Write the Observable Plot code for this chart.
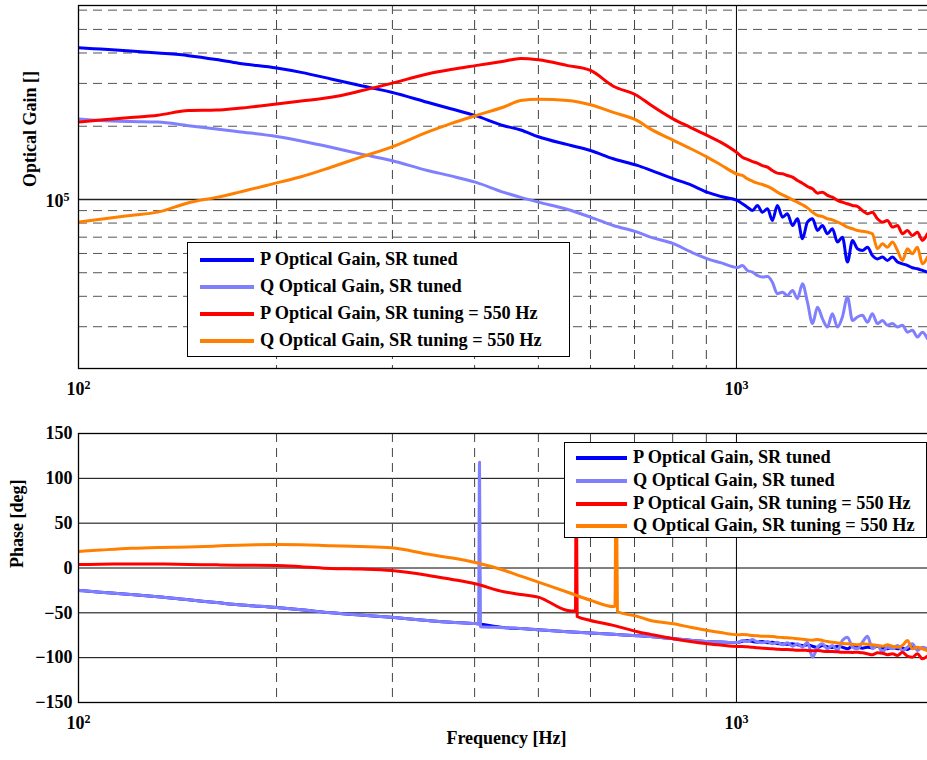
<!DOCTYPE html>
<html><head><meta charset="utf-8">
<script src="https://cdn.jsdelivr.net/npm/d3@7"></script>
<script src="https://cdn.jsdelivr.net/npm/@observablehq/plot@0.6"></script>
<style>
html,body{margin:0;padding:0;overflow:hidden;background:#fff;}
#wrap{position:relative;width:935px;height:760px;}
#wrap svg{display:block;}
.legend{position:absolute;background:#fff;border:1px solid #000;font-family:'Liberation Serif','Times New Roman',serif;font-weight:bold;font-size:18.3px;box-sizing:border-box;}
.legend .sw{position:absolute;height:4px;margin-top:-2px;}
.legend .lbl{position:absolute;white-space:nowrap;transform:translateY(-52%);line-height:1;}
</style></head><body><div id="wrap"></div>
<script>
// ---------------- data ----------------
const seriesNames = [
  "P Optical Gain, SR tuned",
  "Q Optical Gain, SR tuned",
  "P Optical Gain, SR tuning = 550 Hz",
  "Q Optical Gain, SR tuning = 550 Hz"
];
const seriesColors = ["#0000ff", "#8080ff", "#ff0000", "#ff8000"];

// frequency grid [Hz]
const freqHz = [100,108,120,132,147,162,175,200,218,242,268,299,339,368,401,443,470,500,554,600,650,707,740,802,851,904,946,1004,
  1021,1039,1058,1076,1095,1115,1134,1154,1175,1195,1217,1238,1260,1282,1305,1328,1351,1375,1399,1424,
  1449,1475,1501,1527,1554,1582,1609,1638,1667,1696,1726,1757,1788,1819,1851,1884,1917,1951];

// optical gain magnitudes
const pTunedGain = [4.2e5,4.15e5,4.08e5,4.0e5,3.9e5,3.76e5,3.63e5,3.47e5,3.33e5,3.13e5,2.94e5,2.76e5,2.51e5,2.36e5,2.21e5,2.01e5,1.93e5,1.81e5,1.68e5,1.59e5,1.47e5,1.38e5,1.32e5,1.216e5,1.15e5,1.07e5,1.03e5,0.99e5,
  0.96e5,0.93e5,0.901e5,0.945e5,0.887e5,0.916e5,0.82e5,0.945e5,0.846e5,0.873e5,0.782e5,0.833e5,0.69e5,0.807e5,0.833e5,0.746e5,0.782e5,0.723e5,0.758e5,0.668e5,
  0.70e5,0.553e5,0.679e5,0.627e5,0.617e5,0.637e5,0.589e5,0.57e5,0.58e5,0.562e5,0.58e5,0.553e5,0.544e5,0.536e5,0.524e5,0.519e5,0.511e5,0.503e5];
const qTunedGain = [2.14e5,2.11e5,2.09e5,2.08e5,2.01e5,1.95e5,1.90e5,1.815e5,1.74e5,1.64e5,1.54e5,1.446e5,1.316e5,1.25e5,1.178e5,1.07e5,1.02e5,0.975e5,0.91e5,0.846e5,0.782e5,0.734e5,0.70e5,0.658e5,0.61e5,0.57e5,0.55e5,0.525e5,
  0.536e5,0.511e5,0.503e5,0.487e5,0.48e5,0.483e5,0.457e5,0.41e5,0.416e5,0.403e5,0.423e5,0.391e5,0.45e5,0.379e5,0.309e5,0.361e5,0.324e5,0.299e5,0.339e5,0.299e5,
  0.329e5,0.397e5,0.318e5,0.329e5,0.334e5,0.313e5,0.339e5,0.309e5,0.318e5,0.304e5,0.309e5,0.299e5,0.304e5,0.285e5,0.29e5,0.272e5,0.285e5,0.268e5];
const pDetunedGain = [2.08e5,2.12e5,2.17e5,2.22e5,2.32e5,2.33e5,2.37e5,2.47e5,2.54e5,2.63e5,2.79e5,3.0e5,3.28e5,3.42e5,3.55e5,3.7e5,3.8e5,3.75e5,3.55e5,3.39e5,2.92e5,2.67e5,2.45e5,2.14e5,1.98e5,1.83e5,1.72e5,1.55e5,
  1.492e5,1.46e5,1.432e5,1.41e5,1.379e5,1.358e5,1.315e5,1.283e5,1.275e5,1.255e5,1.235e5,1.197e5,1.167e5,1.131e5,1.106e5,1.062e5,1.072e5,1.039e5,1.022e5,0.991e5,
  0.975e5,0.96e5,0.945e5,0.936e5,0.901e5,0.873e5,0.887e5,0.833e5,0.807e5,0.82e5,0.77e5,0.782e5,0.723e5,0.746e5,0.711e5,0.734e5,0.679e5,0.723e5];
const qDetunedGain = [0.807e5,0.83e5,0.86e5,0.887e5,0.97e5,1.02e5,1.07e5,1.17e5,1.24e5,1.357e5,1.49e5,1.64e5,1.89e5,2.05e5,2.21e5,2.4e5,2.55e5,2.58e5,2.55e5,2.45e5,2.28e5,2.11e5,1.95e5,1.75e5,1.62e5,1.49e5,1.39e5,1.27e5,
  1.255e5,1.216e5,1.189e5,1.167e5,1.152e5,1.131e5,1.106e5,1.072e5,1.045e5,1.022e5,0.997e5,0.975e5,0.951e5,0.924e5,0.887e5,0.86e5,0.852e5,0.833e5,0.825e5,0.807e5,
  0.79e5,0.77e5,0.758e5,0.746e5,0.741e5,0.734e5,0.723e5,0.627e5,0.658e5,0.637e5,0.668e5,0.617e5,0.562e5,0.627e5,0.598e5,0.637e5,0.544e5,0.58e5];

// phases [deg]
const pTunedPhase = [-25,-27,-29.5,-32,-35.5,-38.5,-41,-44,-46.5,-50,-52.5,-55,-58.5,-60.5,-62,-66.5,-67.5,-69,-71,-72.5,-74,-75.5,-76.5,-79,-80.5,-82,-82.5,-83,
  -81.6,-80.8,-82,-82.7,-82,-83.5,-82.7,-84.2,-84.6,-85,-84.6,-85.7,-86.4,-85.7,-87.2,-88.7,-86.4,-87.9,-88.7,-87.2,
  -88.3,-90.1,-87.2,-88.3,-89.4,-88.3,-89,-87.2,-89.4,-90.1,-88.7,-90.1,-89.4,-90.9,-88.3,-90.1,-89.4,-90.1];
const qTunedPhase = [-25,-27,-29.5,-32,-35.5,-38.5,-41,-44,-46.5,-50,-52.5,-55,-58.5,-60.5,-62,-66.5,-67.5,-69,-71,-72.5,-74,-75.5,-76.5,-79,-80.5,-82,-82.5,-83,
  -80.8,-82,-79.7,-82.7,-83.5,-82,-84.6,-82.7,-85.7,-83.5,-87.2,-84.6,-88.3,-82.7,-99.4,-88.3,-84.6,-90.1,-86.4,-92,
  -80.8,-77.1,-88.3,-90.1,-82.7,-76,-90.1,-86.4,-93.9,-88.3,-90.1,-86.4,-92,-88.3,-84.6,-92,-88.3,-90.1];
const pDetunedPhase = [3.9,4.2,4.5,4.4,4.0,3.5,3.2,2.8,1.5,-0.5,-1.2,-2.8,-8,-12.5,-17.6,-26.5,-29.5,-32.5,-47.4,-58.5,-64,-71,-74,-79,-82,-84.5,-86,-87.5,
  -87.5,-87.9,-88.3,-89,-89.4,-89.8,-90.1,-90.5,-90.9,-90.9,-91.3,-91.6,-91.6,-92,-92.4,-92,-92.7,-93.1,-93.1,-93.5,
  -93.9,-93.9,-94.2,-93.9,-94.6,-95.7,-96.8,-94.6,-95,-96.8,-95.7,-97.6,-93.9,-98.3,-99.4,-95.7,-101.3,-98.3];
const qDetunedPhase = [18.4,20,22,23,23.5,24.5,25.5,26.2,26,24.8,24,22.6,15.5,11.4,6.1,-2.5,-9,-15.8,-27,-36,-43,-54,-58.5,-62.2,-66,-69.7,-72,-74.5,
  -74.2,-74.5,-75.3,-75.6,-76,-76,-76.4,-77.1,-77.5,-77.9,-78.2,-79,-79.4,-80.1,-80.5,-79.7,-80.8,-82,-82.7,-83.5,
  -84.2,-84.6,-85,-85.7,-84.6,-85,-85.7,-86.4,-87.2,-85.7,-87.2,-88.3,-86.4,-80.8,-90.1,-88.3,-90.1,-92];

// phase-wrap spikes
const qTunedSpikeHz = [405.5, 406.9, 408.3],   qTunedSpikePhase = [-62.5, 118, -65.5];
const pDetunedSpikeHz = [569.3, 570.7, 572.7], pDetunedSpikePhase = [-48, 130, -54];
const qDetunedSpikeHz = [653.7, 656.4, 659.4], qDetunedSpikePhase = [-42.5, 130, -48.5];

// axis ticks
const freqLabelTicks = [100, 1000];
const freqMinorGrid = [200, 300, 400, 500, 600, 700, 800, 900];
const freqMajorGrid = [1000];
const gainLabelTicks = [1e5];
const gainMinorGrid = [3e4, 4e4, 5e4, 6e4, 7e4, 8e4, 9e4, 2e5, 3e5, 4e5, 5e5, 6e5];
const gainMajorGrid = [1e5];
const phaseTicks = [-150, -100, -50, 0, 50, 100, 150];
const phaseGrid = [-100, -50, 0, 50, 100];

// ---------------- build ----------------
const gains = [pTunedGain, qTunedGain, pDetunedGain, qDetunedGain];
const phases = [pTunedPhase, qTunedPhase, pDetunedPhase, qDetunedPhase];
const spikes = [null, [qTunedSpikeHz, qTunedSpikePhase], [pDetunedSpikeHz, pDetunedSpikePhase], [qDetunedSpikeHz, qDetunedSpikePhase]];

const gainRows = seriesNames.map((s, i) => freqHz.map((f, j) => ({f, v: gains[i][j], s})));
const phaseRows = seriesNames.map((s, i) => {
  const rows = freqHz.map((f, j) => ({f, v: phases[i][j], s}));
  if (spikes[i]) spikes[i][0].forEach((f, j) => rows.push({f, v: spikes[i][1][j], s}));
  return rows.sort((a, b) => a.f - b.f);
});

const font = "'Liberation Serif','Times New Roman',serif";
const svgStyle = {fontFamily: font, fontWeight: "bold", fontSize: "18px", maxWidth: "none", background: "white", overflow: "hidden"};
const powFmt = d => "10^" + Math.round(Math.log10(d));
const dash = "9,6";

const lineMarks = rowsets => rowsets.map((rows, i) =>
  Plot.line(rows, {x: "f", y: "v", stroke: seriesColors[i], strokeWidth: 3, strokeLinejoin: "round", curve: "monotone-x", clip: true}));

const topPlot = Plot.plot({
  width: 935, height: 405,
  marginLeft: 78, marginRight: 1, marginTop: 5, marginBottom: 37,
  style: svgStyle,
  x: {type: "log", domain: [100, 2000]},
  y: {type: "log", domain: [2.02e4, 6.27e5]},
  marks: [
    Plot.ruleY(gainMinorGrid, {stroke: "#555", strokeDasharray: dash}),
    Plot.ruleX(freqMinorGrid, {stroke: "#444", strokeDasharray: dash}),
    Plot.ruleY(gainMajorGrid, {stroke: "#222", strokeWidth: 1.3}),
    Plot.ruleX(freqMajorGrid, {stroke: "#000"}),
    ...lineMarks(gainRows),
    Plot.frame({stroke: "#000", strokeWidth: 1.3}),
    Plot.axisX(freqLabelTicks, {tickFormat: powFmt, tickSize: 0, tickPadding: 14, label: null}),
    Plot.axisY(gainLabelTicks, {tickFormat: powFmt, tickSize: 0, tickPadding: 9, label: null, dy: 2}),
    Plot.text(["Optical Gain []"], {text: d => d, frameAnchor: "left", dx: -48, rotate: -90})
  ]
});

const botPlot = Plot.plot({
  width: 935, height: 355,
  marginLeft: 78, marginRight: 1, marginTop: 28, marginBottom: 58,
  style: svgStyle,
  x: {type: "log", domain: [100, 2000]},
  y: {domain: [-150, 150]},
  marks: [
    Plot.ruleY(phaseGrid, {stroke: "#000"}),
    Plot.ruleX(freqMinorGrid, {stroke: "#444", strokeDasharray: dash}),
    Plot.ruleX(freqMajorGrid, {stroke: "#000"}),
    ...lineMarks(phaseRows),
    Plot.frame({stroke: "#000", strokeWidth: 1.3}),
    Plot.axisX(freqLabelTicks, {tickFormat: powFmt, tickSize: 0, tickPadding: 14, label: null}),
    Plot.axisY(phaseTicks, {tickFormat: d => d < 0 ? "\u2212" + Math.abs(d) : String(d), tickSize: 0, tickPadding: 6, label: null}),
    Plot.text(["Phase [deg]"], {text: d => d, frameAnchor: "left", dx: -61, rotate: -90}),
    Plot.text(["Frequency [Hz]"], {text: d => d, frameAnchor: "bottom", dy: 41})
  ]
});

function supify(svg) {
  svg.querySelectorAll("text").forEach(t => {
    const m = /^10\^(\d+)$/.exec(t.textContent);
    if (m) {
      t.textContent = "10";
      const ts = document.createElementNS("http://www.w3.org/2000/svg", "tspan");
      ts.setAttribute("dy", "-0.5em");
      ts.setAttribute("font-size", "12");
      ts.textContent = m[1];
      t.appendChild(ts);
    }
  });
}
supify(topPlot); supify(botPlot);

const wrap = document.getElementById("wrap");
wrap.appendChild(topPlot);
wrap.appendChild(botPlot);

function legend(box) {
  const div = document.createElement("div");
  div.className = "legend";
  Object.assign(div.style, {left: box.left + "px", top: box.top + "px", width: box.width + "px", height: box.height + "px"});
  seriesNames.forEach((name, i) => {
    const y = box.row0 + i * box.step;
    const sw = document.createElement("div");
    sw.className = "sw";
    Object.assign(sw.style, {left: box.lineX0 + "px", width: (box.lineX1 - box.lineX0) + "px", top: y + "px", background: seriesColors[i]});
    const lb = document.createElement("div");
    lb.className = "lbl";
    Object.assign(lb.style, {left: box.textX + "px", top: y + "px"});
    lb.textContent = name;
    div.appendChild(sw); div.appendChild(lb);
  });
  wrap.appendChild(div);
}
legend({left: 187, top: 242, width: 383, height: 115, row0: 17, step: 27, lineX0: 12, lineX1: 66, textX: 72});
legend({left: 564, top: 442, width: 363, height: 96, row0: 15, step: 22.8, lineX0: 11, lineX1: 62, textX: 68});
</script></body></html>
